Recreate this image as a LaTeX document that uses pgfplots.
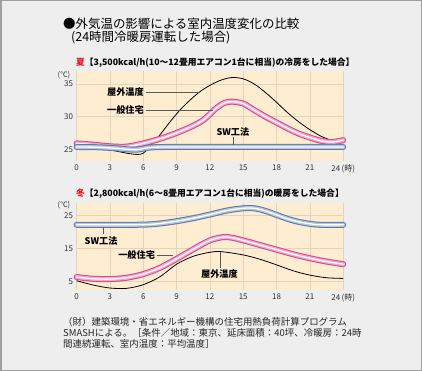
\documentclass[border=0pt]{standalone}
\usepackage{fontspec}
\setmainfont{Noto Sans CJK JP}
\usepackage{pgfplots}
\usepackage{pgfplotstable}
\pgfplotsset{compat=1.18}

\definecolor{bgc}{RGB}{238,238,238}
\definecolor{framec}{RGB}{160,160,160}
\definecolor{plotbg}{RGB}{255,237,210}
\definecolor{gridc}{RGB}{228,212,188}
\definecolor{pinkE}{RGB}{212,72,140}
\definecolor{pinkM}{RGB}{242,165,205}
\definecolor{blueE}{RGB}{95,120,165}
\definecolor{blueM}{RGB}{178,198,226}
\definecolor{leadc}{RGB}{90,90,90}
\definecolor{tickc}{RGB}{50,50,50}
\definecolor{redc}{RGB}{230,20,30}

\pgfplotstableread{
x y
0 25.4
1.5 25.2
3 24.9
4.5 24.4
5.5 24.2
6 24.4
6.5 25.2
7 26.2
7.5 27.2
8.5 29.4
9.3 31.0
10 32.2
11 33.7
12 34.8
13 35.6
14 36.0
15 35.8
16 35.0
17 33.7
18 32.2
19 30.6
20 29.2
21 28.0
22 27.0
23 26.3
}\so
\pgfplotstableread{
x y
0 25.9
1.5 25.7
3 25.45
4.5 25.4
6 25.9
7.5 26.6
9 27.5
10.5 28.6
11.5 29.6
12.5 31.2
13.3 32.1
14 32.3
15 32.0
16 31.0
17 30.0
18 29.1
19 28.2
20 27.4
21 26.8
22 26.3
23 26.1
24 26.4
}\sp
\pgfplotstableread{
x y
0 25.35
2 25.3
3.5 25.15
4.5 25.0
5.5 24.95
6.5 25.25
8 25.35
12 25.35
18 25.35
24 25.35
}\sb
\pgfplotstableread{
x y
0 22.1
3 22.1
6 22.15
7.5 22.5
9 23.2
10.5 24.1
12 25.2
13.5 26.4
15 27.1
16 27.1
17 26.3
18 25.1
19 23.9
20 23.0
21 22.4
22 22.1
24 22.1
}\wb
\pgfplotstableread{
x y
0 6.3
1.5 5.8
3 5.7
4.5 6.1
6 7.2
7.5 9.1
9 11.8
10.5 14.7
12 17.4
13.2 18.4
14 18.2
15 17.4
16.5 16.0
18 14.6
19.5 13.2
21 12.0
22.5 11.0
24 10.2
}\wp
\pgfplotstableread{
x y
0 5.2
1.5 3.9
3 3.0
4.5 2.9
6 4.0
7.5 6.4
9 10.2
10.5 12.6
12 13.8
13 14.0
15 13.0
16.5 11.7
18 10.0
19.5 8.2
21 6.9
22.5 6.1
24 5.9
}\wo

\newcommand{\tube}[3]{%
  \addplot[#2, line width=6bp, smooth, line cap=round] table {#1};
  \addplot[#3, line width=4bp, smooth, line cap=round] table {#1};
  \addplot[white, line width=1.3bp, smooth, line cap=round] table {#1};
}
\newcommand{\lab}{\fontsize{9.2}{10}\selectfont\bfseries}

\pgfplotsset{
  base/.style={
    scale only axis, width=266.6bp,
    xmin=0, xmax=24,
    xtick={0,3,...,24},
    xticklabels={0,3,6,9,12,15,18,21,{24\,(時)}},
    grid=major, grid style={gridc, line width=0.6bp},
    axis line style={draw=none},
    major tick length=0pt,
    axis background/.style={fill=plotbg},
    tick label style={font=\fontsize{8}{9}\selectfont, text=tickc},
    /pgf/number format/assume math mode=true,
    clip=false,
  }
}

\begin{document}
\begin{tikzpicture}
\fill[bgc] (0bp,0bp) rectangle (422bp,371bp);
\draw[framec, line width=1.5bp] (0.75bp,0.75bp) rectangle (421.25bp,370.25bp);

% titles
\node[anchor=west, inner sep=0pt, font=\fontsize{12.5}{14}\selectfont] at (63bp,346.7bp) {●外気温の影響による室内温度変化の比較};
\node[anchor=west, inner sep=0pt, font=\fontsize{12.5}{14}\selectfont] at (71bp,333.3bp) {(24時間冷暖房運転した場合)};

\node[anchor=west, inner sep=0pt, font=\fontsize{8.8}{10}\selectfont\bfseries] at (76bp,308.5bp) {\textcolor{redc}{夏}【3,500kcal/h(10～12畳用エアコン1台に相当)の冷房をした場合】};
\node[anchor=west, inner sep=0pt, font=\fontsize{8.8}{10}\selectfont\bfseries] at (76bp,177.7bp) {\textcolor{redc}{冬}【2,800kcal/h(6～8畳用エアコン1台に相当)の暖房をした場合】};

\node[inner sep=0pt, font=\fontsize{7.5}{8}\selectfont, text=tickc] at (64bp,296bp) {(℃)};
\node[inner sep=0pt, font=\fontsize{7.5}{8}\selectfont, text=tickc] at (64bp,166bp) {(℃)};

% summer
\begin{axis}[base, at={(76.6bp,210bp)}, anchor=south west, height=90bp,
  ymin=23.2, ymax=37, ytick={25,30,35}]
  \addplot[black, line width=0.8bp, smooth] table {\so};
  \tube{\sp}{pinkE}{pinkM}
  \tube{\sb}{blueE}{blueM}
  \draw[leadc, line width=0.5bp] (axis cs:6.25,33.73) -- (axis cs:11.0,33.73);
  \draw[leadc, line width=0.5bp] (axis cs:6.25,31.02) -- (axis cs:12.3,31.02);
  \draw[leadc, line width=0.5bp] (axis cs:14.07,26.93) -- (axis cs:14.07,25.7);
  \node[font=\lab, inner sep=0pt] at (axis cs:4.4,33.73) {屋外温度};
  \node[font=\lab, inner sep=0pt] at (axis cs:4.4,31.02) {一般住宅};
  \node[font=\lab, inner sep=0pt] at (axis cs:14.07,27.7) {SW工法};
\end{axis}

% winter
\begin{axis}[base, at={(76.6bp,81bp)}, anchor=south west, height=87bp,
  ymin=2.4, ymax=28.7, ytick={5,15,25}]
  \addplot[black, line width=0.8bp, smooth] table {\wo};
  \tube{\wp}{pinkE}{pinkM}
  \tube{\wb}{blueE}{blueM}
  \draw[leadc, line width=0.5bp] (axis cs:2.4,21.4) -- (axis cs:2.4,19.3);
  \draw[leadc, line width=0.5bp] (axis cs:7.2,12.9) -- (axis cs:8.7,12.9);
  \draw[leadc, line width=0.5bp] (axis cs:12.95,13.95) -- (axis cs:12.95,9.0);
  \node[font=\lab, inner sep=0pt] at (axis cs:2.2,17.1) {SW工法};
  \node[font=\lab, inner sep=0pt] at (axis cs:5.4,12.9) {一般住宅};
  \node[font=\lab, inner sep=0pt] at (axis cs:12.86,7.1) {屋外温度};
\end{axis}

% footnote
\node[anchor=west, inner sep=0pt, font=\fontsize{9.5}{11}\selectfont, text=black!85] at (63bp,49.3bp) {（財）建築環境・省エネルギー機構の住宅用熱負荷計算プログラム};
\node[anchor=west, inner sep=0pt, font=\fontsize{9.5}{11}\selectfont, text=black!85] at (63bp,37.7bp) {SMASHによる。［条件／地域：東京、延床面積：40坪、冷暖房：24時};
\node[anchor=west, inner sep=0pt, font=\fontsize{9.5}{11}\selectfont, text=black!85] at (63bp,27bp) {間連続運転、室内温度：平均温度］};
\end{tikzpicture}
\end{document}
